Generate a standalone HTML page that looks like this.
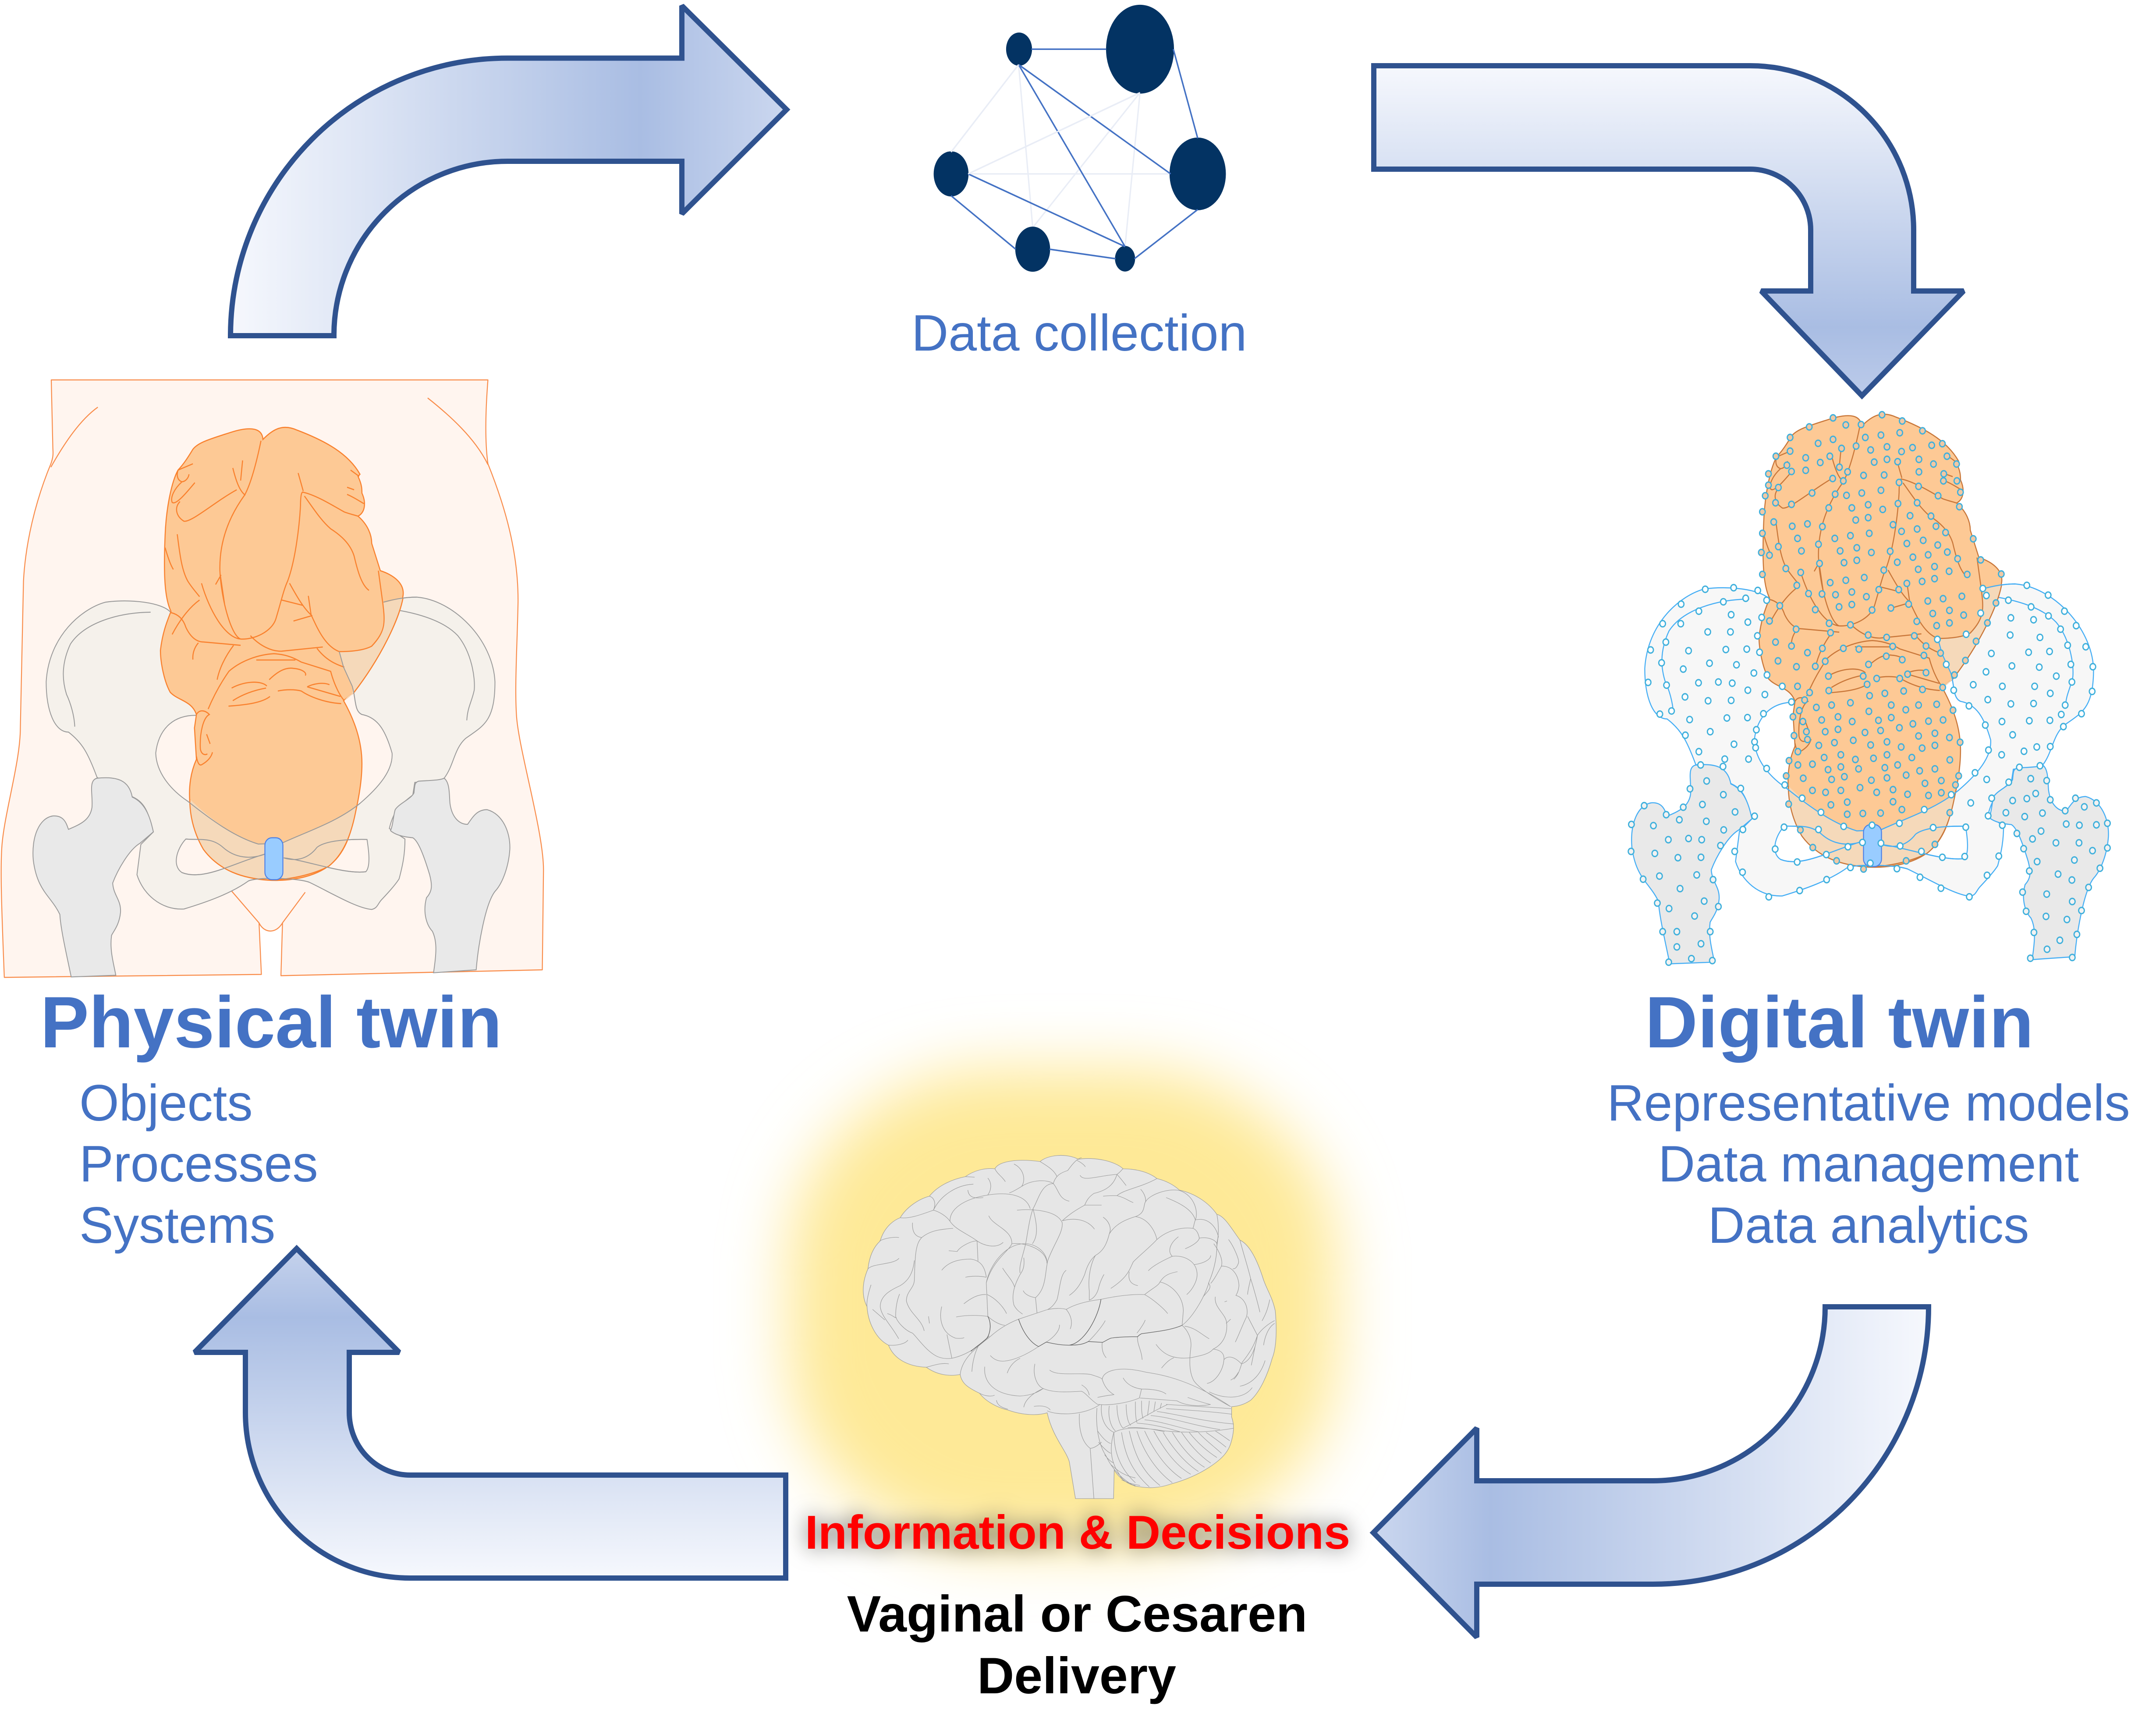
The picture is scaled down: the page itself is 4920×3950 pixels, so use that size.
<!DOCTYPE html>
<html lang="en"><head><meta charset="utf-8"><title>Digital twin cycle</title>
<style>
html,body{margin:0;padding:0;background:#fff}
svg{display:block;position:absolute;left:0;top:0}
text{font-family:"Liberation Sans",Arial,sans-serif}
.t{fill:#4472c4;font-size:116.7px}
.h{fill:#4472c4;font-size:166.3px;font-weight:bold}
.b{font-size:116.7px;font-weight:bold;fill:#000;text-anchor:middle}
.ar{stroke:#2f528f;stroke-width:12;stroke-linejoin:miter;stroke-miterlimit:2}
.torso{fill:#fff5ef;stroke:#f98c4a;stroke-width:2.5;stroke-linejoin:round}
.tl{fill:none;stroke:#f98c4a;stroke-width:2.5}
.pel{fill:var(--pf);fill-rule:evenodd;stroke:var(--ps);stroke-width:var(--pw)}
.pl{fill:none;stroke:var(--ps);stroke-width:var(--pw)}
.fem{fill:#e9e9e9;stroke:var(--ps);stroke-width:var(--pw)}
.baby{fill:#fdc995;stroke:var(--bs);stroke-width:2.7}
.bl{fill:none;stroke:var(--bs);stroke-width:2.7}
.ov{fill:#f5d9ba;stroke:none}
.cx{fill:#99ccff;stroke:#4d80e6;stroke-width:2.5}
.br{fill:#e6e6e6;stroke:#9a9a9a;stroke-width:1.6}
.bn{fill:none;stroke:#999;stroke-width:1.6}
.bd{fill:none;stroke:#555;stroke-width:1.8}
.dots circle{stroke:#3fb0dc;stroke-width:3.4}
</style></head><body>
<svg xmlns="http://www.w3.org/2000/svg" width="4920" height="3950" viewBox="0 0 4920 3950">
<defs>
<linearGradient id="g1" gradientUnits="userSpaceOnUse" x1="526" y1="0" x2="1795" y2="0"><stop offset="0" stop-color="#f6f8fd"/><stop offset=".737" stop-color="#a9bde3"/><stop offset="1" stop-color="#cbd7ef"/></linearGradient>
<linearGradient id="g2" gradientUnits="userSpaceOnUse" x1="0" y1="150" x2="0" y2="905"><stop offset="0" stop-color="#f6f8fd"/><stop offset=".79" stop-color="#a9bde3"/><stop offset="1" stop-color="#bccbea"/></linearGradient>
<linearGradient id="g3" gradientUnits="userSpaceOnUse" x1="4401" y1="0" x2="3134" y2="0"><stop offset="0" stop-color="#f6f8fd"/><stop offset=".79" stop-color="#a9bde3"/><stop offset="1" stop-color="#cbd7ef"/></linearGradient>
<linearGradient id="g4" gradientUnits="userSpaceOnUse" x1="0" y1="3601" x2="0" y2="2849"><stop offset="0" stop-color="#f6f8fd"/><stop offset=".79" stop-color="#a9bde3"/><stop offset="1" stop-color="#c5d2ec"/></linearGradient>
<filter id="soft" filterUnits="userSpaceOnUse" x="1300" y="2000" width="2300" height="1950"><feGaussianBlur stdDeviation="72"/></filter>
<g id="body">
<path class="pel" d="M437 625C415 600 330 592 270 600C210 615 125 680 118 790C118 860 140 910 175 910C210 935 225 960 248 1018L340 1065C375 1080 380 1110 392 1148L360 1178L350 1250C365 1295 410 1335 470 1332C530 1315 590 1295 635 1265C660 1255 760 1258 790 1268C840 1290 910 1330 950 1333C965 1330 965 1320 975 1310C990 1295 1010 1275 1020 1260C1030 1225 1035 1200 1035 1165L995 1140C1005 1100 1020 1085 1055 1060L1060 1030C1100 1025 1130 1025 1135 1020C1160 990 1160 950 1190 925C1235 895 1265 885 1265 790C1260 690 1160 595 1065 588C1030 588 1000 595 980 600Z
M500 870C440 870 405 905 398 960C400 1010 440 1050 480 1075C540 1120 600 1160 660 1177L720 1175C790 1145 860 1125 920 1080C970 1040 1005 1000 1002 960C985 905 965 875 925 868C905 860 910 830 900 800L878 755L700 700Z
M475 1165C450 1190 440 1230 465 1245C520 1265 590 1225 680 1200C640 1215 600 1210 570 1185C540 1160 510 1168 475 1165Z
M938 1166C880 1165 830 1170 810 1185C790 1210 760 1220 725 1210C780 1215 880 1250 935 1243C948 1230 942 1190 938 1166Z"/>
<path class="fem" d="M248 1020C300 1015 330 1025 338 1065C375 1080 385 1120 392 1148L358 1175C330 1190 300 1240 288 1270C290 1300 310 1310 308 1340C305 1370 290 1385 285 1395C280 1430 290 1460 296 1490L182 1494C170 1440 155 1380 153 1345C130 1300 95 1290 85 1215C80 1160 100 1115 135 1110C165 1108 170 1130 175 1142C205 1130 230 1120 235 1090C238 1060 225 1025 248 1020Z"/>
<path class="fem" d="M1135 1020C1150 1030 1148 1060 1150 1080C1155 1115 1175 1130 1195 1130C1210 1110 1220 1095 1245 1095C1285 1105 1305 1150 1303 1190C1300 1230 1285 1270 1265 1290C1240 1320 1222 1420 1217 1477L1108 1484C1115 1440 1118 1410 1105 1385C1090 1370 1080 1340 1090 1305C1105 1290 1105 1275 1098 1250C1085 1210 1070 1170 1055 1162C1030 1160 1010 1155 998 1145C1005 1130 1005 1110 1010 1095C1020 1080 1050 1070 1058 1055C1060 1035 1060 1030 1070 1027C1100 1025 1125 1025 1135 1020Z"/>
<path class="pl" d="M385 624C300 625 215 650 180 700C155 750 160 790 170 820C180 840 190 870 191 897M985 615C1050 622 1130 640 1170 680C1205 720 1215 780 1212 810C1205 840 1195 850 1193 882"/>
<path class="baby" d="M672 212C700 185 725 175 760 190C830 215 890 245 920 295L915 300C925 320 925 330 925 340C935 360 935 385 915 395C940 415 950 440 950 460L972 525C1005 535 1035 555 1030 585C1020 640 975 730 905 815L878 835C905 880 925 930 925 985C925 1040 910 1100 895 1150C875 1210 840 1240 780 1255C740 1265 680 1268 630 1255C560 1240 500 1170 488 1100C478 1040 490 1000 502 975L497 900L502 868C490 835 455 835 435 815C420 790 410 745 410 715C415 675 425 650 437 622C420 590 418 530 422 440C425 370 440 310 455 285C470 270 480 255 490 240C500 220 540 210 590 195C630 183 670 180 672 212Z"/>
<path class="ov" d="M867 718C900 718 940 712 950 705C970 685 985 665 980 602L1030 590C1020 640 975 730 905 815C900 820 890 830 880 835C895 815 905 825 900 800L878 755Z"/>
<path class="ov" d="M485 1070C540 1120 600 1160 660 1177L720 1175C790 1145 860 1125 912 1085C900 1150 880 1200 840 1230C800 1250 740 1262 690 1263C620 1260 560 1240 520 1190C495 1150 485 1110 485 1070Z"/>
<path class="bl" d="M667 215C655 270 640 320 625 345C590 390 560 450 562 525C565 590 590 680 615 688C650 690 695 670 705 640C718 600 725 570 735 550C755 500 765 420 768 370C768 350 770 335 775 338C810 345 860 375 880 385C895 390 905 392 915 395M595 280C603 310 612 335 627 345M620 262L615 310M762 292L775 335M896 285L918 300M887 326L905 332M887 343C905 350 920 360 930 365M778 347C800 375 820 405 845 425C870 440 895 460 905 490C915 530 925 560 943 572M967 525L978 600C985 650 985 670 950 705C930 715 900 718 867 718C830 705 810 660 795 630L788 585M740 555C755 580 775 615 798 633M720 595L775 608M750 645L798 632M453 438C460 490 465 525 480 550C490 565 500 575 510 587M422 470C428 490 435 510 443 522M565 535L551 558M563 535L574 605M515 555C535 620 575 685 615 688M510 595C480 615 455 650 440 677M437 625C460 630 470 645 475 660C485 680 500 695 520 695L615 703M640 680C665 705 695 718 720 717L825 707M810 710C830 735 855 748 880 755M507 697C495 710 492 725 493 737M597 703C575 730 560 760 555 785M655 738L755 738M532 855C550 815 570 785 585 765C615 740 660 725 700 723C735 725 755 735 770 743L845 765C855 800 870 825 880 835M688 785C710 765 730 755 750 758C775 760 785 770 780 775M592 805C620 790 665 785 682 800M595 835C620 820 650 810 680 805M584 848C630 845 670 840 690 825M710 812C730 808 755 808 770 812C790 825 830 840 872 842M785 802L870 825M785 802C800 795 825 790 842 797M502 868C510 855 525 858 535 868C520 875 510 910 512 950C515 965 525 965 530 962M502 968C505 985 510 990 515 988C530 980 540 970 543 958M528 915L537 938M455 285L493 270M455 285C450 300 455 310 465 313C475 312 482 303 483 295M465 313C445 330 435 350 440 362C450 370 480 335 498 315M460 360C445 375 450 395 470 407C490 410 550 360 605 332"/>
<path class="bl" d="M485 1070C485 1110 495 1150 520 1190C560 1240 620 1260 690 1263C740 1262 800 1250 840 1230C880 1200 900 1150 912 1085M1030 590C1020 640 975 730 905 815"/>
<path class="pl" d="M480 1075C540 1120 600 1160 660 1177L720 1175C790 1145 860 1125 920 1080M475 1165C510 1168 540 1160 570 1185C600 1210 640 1215 680 1200C590 1225 520 1265 465 1245M810 1185C790 1210 760 1220 725 1210C780 1215 880 1250 935 1243M938 1166C880 1165 830 1170 810 1185M635 1265C660 1255 760 1258 790 1268M980 600C1000 595 1030 588 1065 588M867 718L878 755L900 800C910 830 905 860 925 868"/>
<rect class="cx" x="677" y="1162" width="46" height="100" rx="18" ry="18"/>
</g>
</defs>

<!-- physical twin -->
<g transform="translate(0 800) scale(.8929 .9567)" style="--pf:#f5f1eb;--ps:#9a9a9a;--pw:2.2;--bs:#f9812e">
<path class="torso" d="M131 70L1247 70C1242 130 1238 210 1247 270C1290 370 1325 480 1324 600C1322 700 1315 800 1320 870C1325 950 1390 1150 1389 1240L1386 1477L718 1491L722 1365C705 1392 675 1390 662 1365L668 1488L11 1495C5 1350 0 1240 5 1180C12 1100 52 980 52 900L60 550C65 460 90 360 130 270C138 250 135 240 135 230Z"/>
<path class="tl" d="M250 135C205 165 165 220 130 278M1093 113C1150 155 1215 210 1247 272M590 1287L662 1365M780 1292L722 1365"/>
<use href="#body"/>
</g>

<!-- digital twin -->
<g transform="translate(3648 -30)"><g transform="translate(0 800) scale(.8929 .9567)" style="--pf:#f7f7f7;--ps:#45aef5;--pw:2.6;--bs:#c9773a">
<use href="#body"/>
</g></g>
<g class="dots" transform="translate(3650 900) scale(.81 .8929)" fill="#f0c8a4">
<circle cx="658" cy="60" r="8"/><circle cx="591" cy="83" r="8"/><circle cx="537" cy="110" r="8"/><circle cx="694" cy="78" r="8"/><circle cx="737" cy="77" r="8"/><circle cx="796" cy="52" r="8"/><circle cx="853" cy="68" r="8"/><circle cx="910" cy="93" r="8"/><circle cx="749" cy="110" r="8"/><circle cx="793" cy="104" r="8"/><circle cx="846" cy="98" r="8"/><circle cx="616" cy="125" r="8"/><circle cx="658" cy="115" r="8"/><circle cx="682" cy="138" r="8"/><circle cx="723" cy="132" r="8"/><circle cx="764" cy="142" r="8"/><circle cx="810" cy="134" r="8"/><circle cx="851" cy="146" r="8"/><circle cx="882" cy="136" r="8"/><circle cx="936" cy="130" r="8"/><circle cx="966" cy="126" r="8"/><circle cx="979" cy="158" r="8"/><circle cx="1006" cy="178" r="8"/><circle cx="537" cy="145" r="8"/><circle cx="497" cy="158" r="8"/><circle cx="581" cy="162" r="8"/><circle cx="649" cy="158" r="8"/><circle cx="622" cy="174" r="8"/><circle cx="528" cy="181" r="8"/><circle cx="676" cy="186" r="8"/><circle cx="774" cy="173" r="8"/><circle cx="810" cy="166" r="8"/><circle cx="840" cy="172" r="8"/><circle cx="900" cy="166" r="8"/><circle cx="941" cy="178" r="8"/><circle cx="476" cy="203" r="8"/><circle cx="541" cy="197" r="8"/><circle cx="581" cy="194" r="8"/><circle cx="699" cy="198" r="8"/><circle cx="744" cy="207" r="8"/><circle cx="802" cy="206" r="8"/><circle cx="900" cy="198" r="8"/><circle cx="970" cy="203" r="8"/><circle cx="1007" cy="221" r="8"/><circle cx="657" cy="215" r="8"/><circle cx="687" cy="221" r="8"/><circle cx="844" cy="225" r="8"/><circle cx="969" cy="221" r="8"/><circle cx="476" cy="232" r="8"/><circle cx="504" cy="238" r="8"/><circle cx="467" cy="259" r="8"/><circle cx="599" cy="252" r="8"/><circle cx="664" cy="255" r="8"/><circle cx="696" cy="258" r="8"/><circle cx="739" cy="252" r="8"/><circle cx="793" cy="245" r="8"/><circle cx="899" cy="235" r="8"/><circle cx="954" cy="259" r="8"/><circle cx="1017" cy="250" r="8"/><circle cx="496" cy="277" r="8"/><circle cx="541" cy="281" r="8"/><circle cx="757" cy="282" r="8"/><circle cx="841" cy="279" r="8"/><circle cx="895" cy="277" r="8"/><circle cx="1014" cy="287" r="8"/><circle cx="459" cy="300" r="8"/><circle cx="646" cy="290" r="8"/><circle cx="711" cy="290" r="8"/><circle cx="798" cy="294" r="8"/><circle cx="722" cy="321" r="8"/><circle cx="757" cy="315" r="8"/><circle cx="875" cy="310" r="8"/><circle cx="934" cy="311" r="8"/><circle cx="491" cy="326" r="8"/><circle cx="543" cy="337" r="8"/><circle cx="586" cy="331" r="8"/><circle cx="628" cy="338" r="8"/><circle cx="827" cy="333" r="8"/><circle cx="851" cy="350" r="8"/><circle cx="895" cy="344" r="8"/><circle cx="948" cy="337" r="8"/><circle cx="975" cy="353" r="8"/><circle cx="459" cy="355" r="8"/><circle cx="558" cy="368" r="8"/><circle cx="663" cy="368" r="8"/><circle cx="707" cy="361" r="8"/><circle cx="760" cy="355" r="8"/><circle cx="912" cy="373" r="8"/><circle cx="1053" cy="369" r="8"/><circle cx="504" cy="389" r="8"/><circle cx="617" cy="383" r="8"/><circle cx="866" cy="381" r="8"/><circle cx="953" cy="385" r="8"/><circle cx="569" cy="400" r="8"/><circle cx="678" cy="400" r="8"/><circle cx="725" cy="392" r="8"/><circle cx="766" cy="404" r="8"/><circle cx="819" cy="401" r="8"/><circle cx="980" cy="403" r="8"/><circle cx="456" cy="404" r="8"/><circle cx="479" cy="411" r="8"/><circle cx="926" cy="410" r="8"/><circle cx="883" cy="416" r="8"/><circle cx="1009" cy="420" r="8"/><circle cx="1074" cy="423" r="8"/><circle cx="689" cy="430" r="8"/><circle cx="725" cy="424" r="8"/><circle cx="839" cy="429" r="8"/><circle cx="620" cy="432" r="8"/><circle cx="944" cy="440" r="8"/><circle cx="525" cy="445" r="8"/><circle cx="898" cy="447" r="8"/><circle cx="801" cy="449" r="8"/><circle cx="985" cy="452" r="8"/><circle cx="459" cy="460" r="8"/><circle cx="567" cy="455" r="8"/><circle cx="1036" cy="460" r="8"/><circle cx="1132" cy="459" r="8"/><circle cx="746" cy="468" r="8"/><circle cx="694" cy="475" r="8"/><circle cx="650" cy="481" r="8"/><circle cx="944" cy="471" r="8"/><circle cx="909" cy="478" r="8"/><circle cx="866" cy="483" r="8"/><circle cx="556" cy="488" r="8"/><circle cx="843" cy="499" r="8"/><circle cx="787" cy="499" r="8"/><circle cx="711" cy="505" r="8"/><circle cx="589" cy="509" r="8"/><circle cx="627" cy="510" r="8"/><circle cx="665" cy="512" r="8"/><circle cx="752" cy="517" r="8"/><circle cx="1021" cy="516" r="8"/><circle cx="968" cy="522" r="8"/><circle cx="925" cy="528" r="8"/><circle cx="711" cy="537" r="8"/><circle cx="675" cy="543" r="8"/><circle cx="871" cy="536" r="8"/><circle cx="508" cy="540" r="8"/><circle cx="821" cy="546" r="8"/><circle cx="768" cy="551" r="8"/><circle cx="608" cy="550" r="8"/><circle cx="1117" cy="533" r="8"/><circle cx="939" cy="560" r="8"/><circle cx="986" cy="552" r="8"/><circle cx="1026" cy="564" r="8"/><circle cx="479" cy="579" r="8"/><circle cx="894" cy="580" r="8"/><circle cx="950" cy="591" r="8"/><circle cx="986" cy="584" r="8"/><circle cx="647" cy="585" r="8"/><circle cx="707" cy="589" r="8"/><circle cx="1093" cy="584" r="8"/><circle cx="554" cy="600" r="8"/><circle cx="651" cy="609" r="8"/><circle cx="757" cy="615" r="8"/><circle cx="809" cy="621" r="8"/><circle cx="887" cy="617" r="8"/><circle cx="1061" cy="631" r="8"/><circle cx="496" cy="633" r="8"/><circle cx="541" cy="643" r="8"/><circle cx="628" cy="649" r="8"/><circle cx="920" cy="643" r="8"/><circle cx="687" cy="649" r="8"/><circle cx="731" cy="651" r="8"/><circle cx="826" cy="644" r="8"/><circle cx="586" cy="660" r="8"/><circle cx="961" cy="661" r="8"/><circle cx="914" cy="667" r="8"/><circle cx="808" cy="669" r="8"/><circle cx="853" cy="678" r="8"/><circle cx="503" cy="681" r="8"/><circle cx="636" cy="682" r="8"/><circle cx="758" cy="690" r="8"/><circle cx="555" cy="696" r="8"/><circle cx="608" cy="695" r="8"/><circle cx="1031" cy="680" r="8"/><circle cx="1000" cy="717" r="8"/><circle cx="645" cy="720" r="8"/><circle cx="743" cy="720" r="8"/><circle cx="781" cy="726" r="8"/><circle cx="846" cy="726" r="8"/><circle cx="868" cy="715" r="8"/><circle cx="920" cy="711" r="8"/><circle cx="558" cy="746" r="8"/><circle cx="754" cy="741" r="8"/><circle cx="646" cy="757" r="8"/><circle cx="910" cy="754" r="8"/><circle cx="967" cy="749" r="8"/><circle cx="857" cy="758" r="8"/><circle cx="592" cy="762" r="8"/><circle cx="761" cy="770" r="8"/><circle cx="804" cy="764" r="8"/><circle cx="578" cy="781" r="8"/><circle cx="707" cy="788" r="8"/><circle cx="654" cy="794" r="8"/><circle cx="822" cy="794" r="8"/><circle cx="899" cy="794" r="8"/><circle cx="950" cy="792" r="8"/><circle cx="611" cy="800" r="8"/><circle cx="563" cy="808" r="8"/><circle cx="759" cy="810" r="8"/><circle cx="863" cy="806" r="8"/><circle cx="996" cy="807" r="8"/><circle cx="672" cy="824" r="8"/><circle cx="822" cy="826" r="8"/><circle cx="545" cy="824" r="8"/><circle cx="626" cy="832" r="8"/><circle cx="712" cy="836" r="8"/><circle cx="786" cy="833" r="8"/><circle cx="883" cy="842" r="8"/><circle cx="927" cy="835" r="8"/><circle cx="968" cy="832" r="8"/><circle cx="573" cy="836" r="8"/><circle cx="845" cy="852" r="8"/><circle cx="672" cy="856" r="8"/><circle cx="583" cy="862" r="8"/><circle cx="636" cy="862" r="8"/><circle cx="748" cy="864" r="8"/><circle cx="792" cy="859" r="8"/><circle cx="945" cy="866" r="8"/><circle cx="899" cy="873" r="8"/><circle cx="548" cy="872" r="8"/><circle cx="986" cy="877" r="8"/><circle cx="586" cy="882" r="8"/><circle cx="715" cy="884" r="8"/><circle cx="810" cy="888" r="8"/><circle cx="662" cy="890" r="8"/><circle cx="1016" cy="889" r="8"/><circle cx="618" cy="897" r="8"/><circle cx="764" cy="896" r="8"/><circle cx="850" cy="901" r="8"/><circle cx="945" cy="897" r="8"/><circle cx="909" cy="904" r="8"/><circle cx="559" cy="913" r="8"/><circle cx="810" cy="921" r="8"/><circle cx="680" cy="921" r="8"/><circle cx="633" cy="928" r="8"/><circle cx="772" cy="930" r="8"/><circle cx="721" cy="933" r="8"/><circle cx="880" cy="928" r="8"/><circle cx="534" cy="936" r="8"/><circle cx="987" cy="934" r="8"/><circle cx="559" cy="947" r="8"/><circle cx="600" cy="945" r="8"/><circle cx="680" cy="952" r="8"/><circle cx="840" cy="947" r="8"/><circle cx="644" cy="959" r="8"/><circle cx="730" cy="957" r="8"/><circle cx="804" cy="954" r="8"/><circle cx="945" cy="957" r="8"/><circle cx="902" cy="962" r="8"/><circle cx="864" cy="973" r="8"/><circle cx="526" cy="975" r="8"/><circle cx="690" cy="977" r="8"/><circle cx="574" cy="981" r="8"/><circle cx="654" cy="984" r="8"/><circle cx="766" cy="986" r="8"/><circle cx="810" cy="980" r="8"/><circle cx="1012" cy="975" r="8"/><circle cx="917" cy="994" r="8"/><circle cx="963" cy="987" r="8"/><circle cx="1003" cy="998" r="8"/><circle cx="734" cy="1005" r="8"/><circle cx="600" cy="1012" r="8"/><circle cx="637" cy="1017" r="8"/><circle cx="680" cy="1012" r="8"/><circle cx="781" cy="1017" r="8"/><circle cx="827" cy="1010" r="8"/><circle cx="868" cy="1022" r="8"/><circle cx="927" cy="1025" r="8"/><circle cx="963" cy="1018" r="8"/><circle cx="533" cy="1047" r="8"/><circle cx="652" cy="1049" r="8"/><circle cx="698" cy="1042" r="8"/><circle cx="827" cy="1041" r="8"/><circle cx="852" cy="1061" r="8"/><circle cx="698" cy="1073" r="8"/><circle cx="742" cy="1071" r="8"/><circle cx="792" cy="1070" r="8"/><circle cx="987" cy="1069" r="8"/><circle cx="566" cy="1113" r="8"/><circle cx="601" cy="1158" r="8"/><circle cx="945" cy="1150" r="8"/><circle cx="668" cy="1192" r="8"/><circle cx="864" cy="1192" r="8"/><circle cx="744" cy="1213" r="8"/>
<g fill="#fff">
<circle cx="298" cy="498" r="8"/><circle cx="378" cy="494" r="8"/><circle cx="446" cy="501" r="8"/><circle cx="471" cy="526" r="8"/><circle cx="230" cy="536" r="8"/><circle cx="349" cy="530" r="8"/><circle cx="412" cy="521" r="8"/><circle cx="178" cy="586" r="8"/><circle cx="229" cy="586" r="8"/><circle cx="280" cy="554" r="8"/><circle cx="371" cy="563" r="8"/><circle cx="418" cy="582" r="8"/><circle cx="457" cy="570" r="8"/><circle cx="187" cy="633" r="8"/><circle cx="305" cy="607" r="8"/><circle cx="369" cy="607" r="8"/><circle cx="445" cy="617" r="8"/><circle cx="144" cy="653" r="8"/><circle cx="251" cy="655" r="8"/><circle cx="356" cy="652" r="8"/><circle cx="415" cy="651" r="8"/><circle cx="451" cy="659" r="8"/><circle cx="175" cy="686" r="8"/><circle cx="310" cy="687" r="8"/><circle cx="386" cy="691" r="8"/><circle cx="236" cy="702" r="8"/><circle cx="435" cy="712" r="8"/><circle cx="472" cy="717" r="8"/><circle cx="137" cy="736" r="8"/><circle cx="189" cy="743" r="8"/><circle cx="279" cy="737" r="8"/><circle cx="335" cy="735" r="8"/><circle cx="374" cy="738" r="8"/><circle cx="418" cy="756" r="8"/><circle cx="466" cy="767" r="8"/><circle cx="515" cy="746" r="8"/><circle cx="241" cy="773" r="8"/><circle cx="306" cy="783" r="8"/><circle cx="371" cy="782" r="8"/><circle cx="203" cy="809" r="8"/><circle cx="170" cy="817" r="8"/><circle cx="359" cy="827" r="8"/><circle cx="254" cy="831" r="8"/><circle cx="417" cy="826" r="8"/><circle cx="462" cy="816" r="8"/><circle cx="541" cy="786" r="8"/><circle cx="312" cy="862" r="8"/><circle cx="442" cy="857" r="8"/><circle cx="242" cy="871" r="8"/><circle cx="379" cy="894" r="8"/><circle cx="437" cy="888" r="8"/><circle cx="440" cy="903" r="8"/><circle cx="280" cy="913" r="8"/><circle cx="420" cy="932" r="8"/><circle cx="353" cy="932" r="8"/><circle cx="285" cy="947" r="8"/><circle cx="348" cy="951" r="8"/><circle cx="471" cy="956" r="8"/><circle cx="522" cy="998" r="8"/><circle cx="571" cy="1032" r="8"/><circle cx="624" cy="1068" r="8"/><circle cx="688" cy="1104" r="8"/><circle cx="437" cy="1078" r="8"/><circle cx="398" cy="1007" r="8"/><circle cx="404" cy="1112" r="8"/><circle cx="520" cy="1106" r="8"/><circle cx="617" cy="1112" r="8"/><circle cx="495" cy="1162" r="8"/><circle cx="557" cy="1195" r="8"/><circle cx="639" cy="1176" r="8"/><circle cx="700" cy="1156" r="8"/><circle cx="741" cy="1145" r="8"/><circle cx="793" cy="1147" r="8"/><circle cx="847" cy="1154" r="8"/><circle cx="907" cy="1168" r="8"/><circle cx="966" cy="1183" r="8"/><circle cx="1029" cy="1181" r="8"/><circle cx="1032" cy="1106" r="8"/><circle cx="940" cy="1107" r="8"/><circle cx="845" cy="1096" r="8"/><circle cx="768" cy="1101" r="8"/><circle cx="763" cy="1198" r="8"/><circle cx="915" cy="1061" r="8"/><circle cx="991" cy="1023" r="8"/><circle cx="1058" cy="967" r="8"/><circle cx="1096" cy="909" r="8"/><circle cx="1087" cy="845" r="8"/><circle cx="1041" cy="796" r="8"/><circle cx="998" cy="756" r="8"/><circle cx="977" cy="690" r="8"/><circle cx="952" cy="626" r="8"/><circle cx="1033" cy="613" r="8"/><circle cx="1074" cy="559" r="8"/><circle cx="1080" cy="496" r="8"/><circle cx="1090" cy="514" r="8"/><circle cx="381" cy="1168" r="8"/><circle cx="403" cy="1221" r="8"/><circle cx="477" cy="1284" r="8"/><circle cx="564" cy="1268" r="8"/><circle cx="640" cy="1240" r="8"/><circle cx="707" cy="1209" r="8"/><circle cx="838" cy="1212" r="8"/><circle cx="903" cy="1234" r="8"/><circle cx="962" cy="1262" r="8"/><circle cx="1042" cy="1284" r="8"/><circle cx="1092" cy="1229" r="8"/><circle cx="1125" cy="1180" r="8"/><circle cx="1135" cy="1101" r="8"/><circle cx="1095" cy="1077" r="8"/><circle cx="1105" cy="1032" r="8"/><circle cx="1153" cy="991" r="8"/><circle cx="1183" cy="953" r="8"/><circle cx="1241" cy="949" r="8"/><circle cx="1270" cy="900" r="8"/><circle cx="1307" cy="849" r="8"/><circle cx="1358" cy="816" r="8"/><circle cx="1388" cy="759" r="8"/><circle cx="1390" cy="696" r="8"/><circle cx="1370" cy="645" r="8"/><circle cx="1343" cy="591" r="8"/><circle cx="1310" cy="554" r="8"/><circle cx="1264" cy="513" r="8"/><circle cx="1204" cy="488" r="8"/><circle cx="1152" cy="526" r="8"/><circle cx="1216" cy="543" r="8"/><circle cx="1265" cy="566" r="8"/><circle cx="1299" cy="600" r="8"/><circle cx="1319" cy="641" r="8"/><circle cx="1328" cy="690" r="8"/><circle cx="1331" cy="735" r="8"/><circle cx="1312" cy="794" r="8"/><circle cx="1301" cy="818" r="8"/><circle cx="1159" cy="571" r="8"/><circle cx="1223" cy="576" r="8"/><circle cx="1157" cy="615" r="8"/><circle cx="1241" cy="621" r="8"/><circle cx="1104" cy="662" r="8"/><circle cx="1209" cy="659" r="8"/><circle cx="1268" cy="657" r="8"/><circle cx="1162" cy="694" r="8"/><circle cx="1239" cy="697" r="8"/><circle cx="1287" cy="720" r="8"/><circle cx="1089" cy="709" r="8"/><circle cx="1053" cy="742" r="8"/><circle cx="1135" cy="746" r="8"/><circle cx="1226" cy="746" r="8"/><circle cx="1270" cy="764" r="8"/><circle cx="1094" cy="780" r="8"/><circle cx="1159" cy="791" r="8"/><circle cx="1223" cy="790" r="8"/><circle cx="1134" cy="836" r="8"/><circle cx="1211" cy="834" r="8"/><circle cx="1269" cy="833" r="8"/><circle cx="1164" cy="870" r="8"/><circle cx="1232" cy="901" r="8"/><circle cx="1196" cy="912" r="8"/><circle cx="1133" cy="921" r="8"/><circle cx="1091" cy="984" r="8"/><circle cx="1046" cy="1044" r="8"/>
</g>
<g fill="#f2f2f2">
<circle cx="302" cy="988" r="8"/><circle cx="255" cy="1008" r="8"/><circle cx="349" cy="1023" r="8"/><circle cx="290" cy="1048" r="8"/><circle cx="236" cy="1055" r="8"/><circle cx="126" cy="1051" r="8"/><circle cx="188" cy="1074" r="8"/><circle cx="382" cy="1067" r="8"/><circle cx="225" cy="1087" r="8"/><circle cx="301" cy="1091" r="8"/><circle cx="90" cy="1099" r="8"/><circle cx="152" cy="1102" r="8"/><circle cx="350" cy="1113" r="8"/><circle cx="194" cy="1138" r="8"/><circle cx="251" cy="1135" r="8"/><circle cx="288" cy="1138" r="8"/><circle cx="341" cy="1153" r="8"/><circle cx="89" cy="1168" r="8"/><circle cx="156" cy="1173" r="8"/><circle cx="221" cy="1184" r="8"/><circle cx="286" cy="1183" r="8"/><circle cx="274" cy="1228" r="8"/><circle cx="123" cy="1239" r="8"/><circle cx="169" cy="1231" r="8"/><circle cx="320" cy="1240" r="8"/><circle cx="227" cy="1263" r="8"/><circle cx="295" cy="1295" r="8"/><circle cx="163" cy="1300" r="8"/><circle cx="196" cy="1314" r="8"/><circle cx="335" cy="1309" r="8"/><circle cx="268" cy="1333" r="8"/><circle cx="178" cy="1373" r="8"/><circle cx="218" cy="1373" r="8"/><circle cx="312" cy="1373" r="8"/><circle cx="286" cy="1404" r="8"/><circle cx="218" cy="1412" r="8"/><circle cx="195" cy="1451" r="8"/><circle cx="259" cy="1442" r="8"/><circle cx="318" cy="1447" r="8"/>
<circle cx="1215" cy="982" r="8"/><circle cx="1260" cy="987" r="8"/><circle cx="1164" cy="1038" r="8"/><circle cx="1204" cy="1033" r="8"/><circle cx="1229" cy="1020" r="8"/><circle cx="1270" cy="1036" r="8"/><circle cx="1341" cy="1032" r="8"/><circle cx="1400" cy="1044" r="8"/><circle cx="1366" cy="1054" r="8"/><circle cx="1312" cy="1064" r="8"/><circle cx="1145" cy="1069" r="8"/><circle cx="1198" cy="1079" r="8"/><circle cx="1248" cy="1070" r="8"/><circle cx="1315" cy="1098" r="8"/><circle cx="1352" cy="1101" r="8"/><circle cx="1400" cy="1100" r="8"/><circle cx="1431" cy="1096" r="8"/><circle cx="1244" cy="1116" r="8"/><circle cx="1176" cy="1122" r="8"/><circle cx="1220" cy="1136" r="8"/><circle cx="1286" cy="1146" r="8"/><circle cx="1351" cy="1146" r="8"/><circle cx="1195" cy="1161" r="8"/><circle cx="1389" cy="1166" r="8"/><circle cx="1431" cy="1159" r="8"/><circle cx="1338" cy="1190" r="8"/><circle cx="1233" cy="1194" r="8"/><circle cx="1410" cy="1211" r="8"/><circle cx="1211" cy="1218" r="8"/><circle cx="1292" cy="1226" r="8"/><circle cx="1331" cy="1241" r="8"/><circle cx="1378" cy="1260" r="8"/><circle cx="1192" cy="1272" r="8"/><circle cx="1260" cy="1277" r="8"/><circle cx="1332" cy="1296" r="8"/><circle cx="1202" cy="1321" r="8"/><circle cx="1358" cy="1319" r="8"/><circle cx="1258" cy="1334" r="8"/><circle cx="1317" cy="1342" r="8"/><circle cx="1224" cy="1375" r="8"/><circle cx="1345" cy="1380" r="8"/><circle cx="1297" cy="1395" r="8"/><circle cx="1261" cy="1418" r="8"/><circle cx="1214" cy="1441" r="8"/><circle cx="1332" cy="1439" r="8"/>
</g>
</g>

<!-- glow -->
<rect x="1800" y="2440" width="1250" height="1090" rx="480" ry="440" fill="#fee997" filter="url(#soft)"/>

<!-- arrows -->
<path class="ar" fill="url(#g1)" d="M526 766A632 634 0 0 1 1158 132.6L1556 132.6L1556 13L1795 250L1556 488L1556 368L1158 368A396 398 0 0 0 762 766Z"/>
<path class="ar" fill="url(#g2)" d="M3135 150L3994 150A373 375 0 0 1 4367 525L4367 664L4481 664L4249 903L4019 664L4132 664L4132 525A138 139 0 0 0 3994 386L3135 386Z"/>
<path class="ar" fill="url(#g3)" d="M4165 2982L4401 2982A629 633 0 0 1 3772 3615L3370 3615L3370 3736L3134 3497.5L3370 3259L3370 3379L3772 3379A393 397 0 0 0 4165 2982Z"/>
<path class="ar" fill="url(#g4)" d="M1793 3366L936 3366A139 143 0 0 1 797 3223L797 3086L911 3086L677 2849L444 3086L560 3086L560 3223A376 378 0 0 0 936 3601L1793 3601Z"/>

<!-- network -->
<g transform="translate(2050 0) scale(.5102 .5421)" stroke-width="6.2" fill="none">
<g stroke="#e9edf6"><path d="M538 272L236 640M538 272L601 958M1081 390L312 732M1081 390L601 958M1081 390L1014 1038M312 732L1218 732"/></g>
<g stroke="#4472c4"><path d="M595 207L930 207M1230 207L1339 582M1339 882L1056 1089M972 1089L676 1049M525 1049L236 824M312 732L1014 1038M538 272L1014 1038M538 272L1218 732"/></g>
<g fill="#033363" stroke="none">
<ellipse cx="540" cy="207" rx="58" ry="70"/><ellipse cx="1081" cy="207" rx="152" ry="187"/><ellipse cx="1339" cy="732" rx="126" ry="153"/><ellipse cx="236" cy="732" rx="78" ry="95"/><ellipse cx="601" cy="1049" rx="78" ry="95"/><ellipse cx="1014" cy="1089" rx="45" ry="54"/>
</g>
<g stroke="#4472c4"><path d="M595 207L930 207M1230 207L1339 582M1339 882L1056 1089M972 1089L676 1049M525 1049L236 824M312 732L1014 1038M538 272L1014 1038M538 272L1218 732"/></g>
<g stroke="#e9edf6"><path d="M538 272L236 640M1081 390L312 732"/></g>
</g>

<!-- brain -->
<g transform="translate(1900 2500) scale(.7015 .6378)">
<path class="br" d="M528 262C540 235 600 225 675 236C700 212 760 205 800 228C850 218 920 235 945 262C990 262 1030 275 1055 297C1085 305 1110 320 1128 338C1180 350 1225 385 1250 425C1275 430 1300 480 1325 517C1360 535 1385 600 1402 660C1415 700 1430 720 1440 770C1445 830 1445 900 1430 940C1415 1000 1390 1060 1360 1090C1340 1105 1320 1112 1298 1113L1298 1150C1308 1180 1305 1210 1295 1245C1285 1280 1260 1305 1225 1330C1190 1355 1150 1375 1100 1390C1060 1405 1030 1405 1000 1400C960 1395 930 1365 916 1340L914 1442L790 1442L770 1310C760 1270 715 1220 698 1135C670 1145 620 1145 570 1125C530 1115 495 1090 478 1065C440 1045 420 1030 415 998C380 1005 340 1000 305 972C250 970 200 945 182 893C140 870 115 810 112 755C95 720 95 670 115 620C120 570 135 540 155 520C165 480 190 450 220 437C240 400 280 370 315 360C340 325 385 300 432 290C460 268 495 258 528 262Z"/>
<path class="bn" d="M415 998C420 950 450 915 510 865C540 835 570 815 605 800L695 767C720 760 745 760 760 765C790 745 830 735 873 729C920 718 970 710 1015 712C1040 690 1060 680 1065 667C1100 675 1140 715 1141 770L1137 822M670 898C640 920 600 945 560 950C540 952 525 945 513 930M992 863C990 890 1005 910 1007 945M877 883C875 910 880 925 890 938M760 765C775 785 782 810 773 835M695 882C720 865 740 840 738 820M832 880C860 850 880 820 887 805M990 850C1005 830 1015 810 1017 803M1015 712C1045 730 1080 765 1090 780M1137 822C1155 840 1170 870 1165 905C1160 950 1160 990 1175 1020C1190 1045 1240 1080 1295 1113M1145 825C1180 830 1200 855 1225 870M1052 890C1075 925 1105 945 1165 938C1200 930 1225 925 1238 907C1260 910 1275 920 1273 945C1270 985 1245 1025 1218 1030M1238 907C1270 890 1285 855 1282 815C1280 780 1240 760 1245 720M1070 975C1085 955 1095 945 1110 938M478 1065C495 1075 515 1078 527 1072M495 970C490 1020 520 1070 610 1075C650 1072 670 1060 685 1048C720 1065 770 1060 810 1058C825 1065 835 1085 862 1105C900 1110 960 1100 998 1082L1005 1050C1040 1050 1070 1055 1085 1068M658 960C650 1000 665 1040 685 1048M706 982C730 1005 800 990 840 998C860 1005 875 1010 877 1015C880 985 930 965 1020 990C1080 1000 1170 1020 1295 1113M877 1015C885 1045 900 1060 915 1070C880 1075 870 1078 862 1080M945 1010C960 1040 990 1048 1005 1050M1155 1080C1180 1090 1210 1100 1228 1105M1000 1082C1040 1085 1090 1090 1120 1092C1150 1112 1200 1112 1230 1105M810 1035C825 1045 832 1055 835 1072M685 1048C650 1065 625 1090 622 1115M655 1112C680 1108 700 1112 708 1125M533 1090C535 1105 545 1115 570 1122M698 1128C730 1145 820 1145 870 1105M453 988C455 950 465 910 478 890M568 993C575 970 590 950 610 940"/>
<path class="bn" d="M220 437C250 442 290 425 328 410C345 415 370 430 382 450M315 360C330 365 338 385 328 410M382 450C380 410 420 370 510 355C570 345 630 355 643 405M432 290L462 292M328 410C350 360 400 320 458 317M505 295C520 315 515 340 505 355M440 338C442 360 455 370 490 365M528 262C535 280 552 290 562 308M590 245C620 260 630 300 615 325C600 335 585 345 575 348M615 325C650 300 700 300 718 315C725 285 745 275 765 268C780 245 795 225 810 222M675 236C695 250 720 265 730 290M795 232C810 240 820 250 822 255M718 315C735 335 735 370 770 378M718 315C680 315 670 370 652 405C665 460 670 500 650 530M652 405C640 440 635 490 628 530C620 570 605 610 610 635M600 410C650 405 730 410 747 455C750 490 720 530 700 590C690 640 695 690 660 723C640 720 625 710 620 698M660 723L665 778M805 285C815 310 870 285 925 282C940 270 940 265 945 262M925 282C915 320 890 340 850 350C830 365 825 380 820 392L875 392M925 358C950 365 960 375 978 383M880 360C895 358 910 358 925 358C950 335 1000 330 1055 297M925 282C940 300 950 315 955 322M820 392C790 410 770 425 747 448C790 435 830 445 852 478M880 435C900 450 908 475 900 495C890 540 875 560 855 572C835 590 825 620 820 640C805 680 790 700 770 715M900 495C920 460 950 445 985 433C1020 420 1010 390 1018 380C1030 355 1090 330 1130 340C1180 360 1190 420 1180 445C1215 435 1245 460 1255 505C1250 520 1250 530 1250 540C1250 590 1235 640 1225 665C1215 710 1175 790 1137 822M1002 335C1015 350 1020 370 1018 380M1085 365C1120 380 1170 405 1180 445C1175 460 1175 470 1172 475C1185 480 1190 495 1193 510C1220 505 1245 515 1250 530M985 433C1030 440 1050 490 1055 515M1055 515C1030 545 1000 570 978 595C965 625 960 650 905 690M965 630C960 660 970 675 993 680M1055 515C1090 480 1140 470 1172 475M1125 505C1095 530 1090 560 1105 575C1140 570 1180 590 1185 630C1190 660 1170 695 1152 712M1147 548C1165 540 1190 525 1193 510M1105 575C1075 590 1040 610 1027 627M1175 605C1210 600 1230 585 1230 572M1122 630C1100 635 1080 640 1065 667M855 572C840 600 830 650 835 700L835 732C850 725 860 710 865 690C870 665 880 645 883 640M760 625C740 640 740 690 730 730C720 750 710 760 700 765"/>
<path class="bn" d="M1240 530C1260 560 1270 590 1265 610C1300 610 1320 640 1322 680C1320 700 1315 710 1312 715C1345 725 1355 770 1345 795C1330 830 1320 860 1310 882M1288 515C1305 540 1325 590 1320 600C1315 615 1310 620 1302 620M1250 425C1258 470 1255 500 1250 540M1325 517C1335 560 1350 610 1360 655C1355 680 1350 700 1350 712M1360 655C1370 690 1385 750 1390 775M1265 610C1250 640 1240 660 1230 672M1205 720C1225 695 1235 685 1222 670M1350 790L1382 858C1395 835 1420 815 1438 805M1422 730C1415 770 1405 790 1397 806M1382 858C1375 910 1360 950 1330 960C1300 925 1280 935 1273 945M1382 858C1370 900 1350 930 1332 955C1325 980 1320 1000 1305 1015M1438 815C1415 830 1405 870 1402 893M1375 895C1370 920 1365 950 1362 965M1407 948C1395 990 1370 1030 1325 1040M1320 990C1310 1010 1300 1015 1295 1018M1365 1045C1335 1090 1270 1085 1225 1060M1275 738L1283 735M1295 800L1280 815"/>
<path class="bn" d="M382 450C400 480 440 495 470 520C490 535 530 550 555 525M470 520C450 520 415 540 405 558L378 555M470 520L473 592M508 430C520 465 585 480 583 530C575 555 520 590 500 670L505 790M510 860C470 905 430 930 388 940C350 945 330 930 310 910C290 890 270 860 260 850C235 840 210 810 205 790C205 760 210 730 218 710M583 530C620 525 690 545 697 595M290 508C270 530 268 570 266 660C265 690 240 700 240 735C250 780 290 800 298 842M290 508C320 480 360 478 392 475M260 455C258 490 270 505 290 508M266 590C262 630 250 660 220 680C190 695 155 715 155 755C158 790 190 820 215 870M153 520C170 510 200 505 216 508M115 620C130 600 200 605 216 582M125 677C115 710 110 740 112 755M130 765L170 803M178 780C195 785 200 795 208 795M182 893C205 895 235 890 245 875M305 972C330 965 355 955 378 960M355 755C345 800 355 850 400 868C415 870 425 868 428 866M355 625C380 590 420 585 450 585C480 590 495 610 500 650M432 650C450 645 480 645 500 650M427 745C455 720 480 710 500 712M402 792C435 785 470 785 505 790M372 855L388 940M312 790L315 815M553 617C565 640 585 660 592 685M503 712C530 725 555 755 566 780M505 790C525 810 545 820 560 822M500 670C510 610 560 530 625 530C670 530 700 570 697 600M622 580C625 610 620 625 610 640C595 670 580 710 590 750C600 770 610 775 618 782"/>
<path class="bd" d="M1137 822C1100 840 1050 845 1005 852C995 858 993 862 992 863C960 862 920 865 905 868C895 872 885 880 878 883L832 880C815 890 800 893 770 893C740 893 720 888 695 882L670 898C645 885 620 850 605 800M873 729C865 790 820 885 770 893M505 790C520 820 510 860 500 870C480 890 465 900 450 915"/>
<path class="bn" d="M915 1205C940 1190 980 1185 1050 1195C1130 1210 1230 1205 1305 1190M915 1205C915 1280 940 1340 985 1385M940 1205C950 1280 970 1340 1030 1400M965 1200C980 1270 1000 1340 1065 1395M990 1200C1010 1270 1050 1340 1105 1385M1015 1200C1040 1260 1080 1330 1135 1370M1045 1200C1070 1250 1110 1320 1165 1355M1075 1205C1100 1250 1140 1310 1190 1345M1105 1205C1130 1250 1165 1300 1210 1330M1135 1205C1160 1245 1190 1285 1230 1315M1160 1205C1185 1240 1215 1270 1250 1295M1190 1205C1210 1230 1240 1255 1265 1280M1215 1205C1235 1220 1260 1240 1280 1258M1245 1200C1260 1210 1275 1222 1292 1235M860 1118C855 1180 865 1250 890 1290C910 1340 950 1380 985 1398M875 1105C870 1150 885 1190 915 1205C900 1260 905 1310 930 1350C940 1375 960 1390 985 1395M900 1110C895 1150 905 1185 920 1200M925 1108C925 1150 935 1180 945 1190M955 1105C955 1140 960 1170 970 1180M985 1095C985 1130 985 1150 990 1170M1005 1092C1005 1120 1005 1140 1010 1155M1030 1092C1030 1110 1025 1130 1025 1145M1050 1095L1045 1130M1070 1100L1065 1120M945 1190C1000 1160 1040 1130 1090 1105M1085 1105L1296 1120M1085 1120C1150 1125 1230 1130 1298 1140M1055 1130C1120 1140 1200 1165 1305 1175M1035 1145C1100 1150 1170 1180 1260 1195M1015 1160C1070 1165 1130 1190 1190 1203M990 1172C1040 1175 1090 1190 1130 1203M960 1188C1000 1185 1050 1195 1080 1203M862 1200C875 1220 890 1240 905 1245M865 1240C880 1260 895 1275 905 1280M885 1285C895 1300 905 1310 915 1315M905 1320C930 1345 950 1360 985 1368M940 1375C960 1385 975 1390 1000 1395M803 1138C800 1190 810 1240 838 1262C850 1262 865 1250 875 1240M838 1262L850 1442"/>
</g>

<!-- text -->
<text class="t" x="2080" y="800">Data collection</text>
<text class="h" x="92" y="2390">Physical twin</text>
<text class="t" x="181" y="2557">Objects</text>
<text class="t" x="181" y="2696">Processes</text>
<text class="t" x="181" y="2836">Systems</text>
<text class="h" x="3754" y="2390">Digital twin</text>
<text class="t" x="4264" y="2557" text-anchor="middle">Representative models</text>
<text class="t" x="4264" y="2696" text-anchor="middle">Data management</text>
<text class="t" x="4264" y="2836" text-anchor="middle">Data analytics</text>
<text x="2459" y="3534" text-anchor="middle" font-size="108.2" font-weight="bold" fill="#ff0000" style="filter:drop-shadow(0 0 24px rgba(0,0,0,.62))">Information &amp; Decisions</text>
<text class="b" x="2458" y="3723">Vaginal or Cesaren</text>
<text class="b" x="2457" y="3864">Delivery</text>
</svg>
</body></html>
